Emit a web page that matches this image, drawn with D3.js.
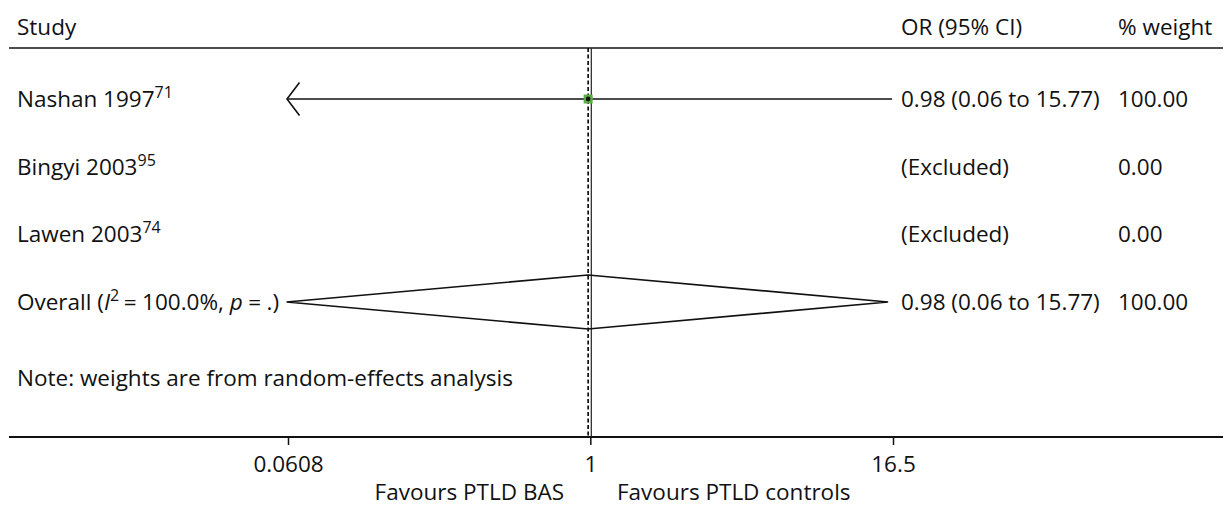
<!DOCTYPE html>
<html>
<head>
<meta charset="utf-8">
<script src="https://cdn.jsdelivr.net/npm/d3@7/dist/d3.min.js"></script>
<style>
  html, body { margin: 0; padding: 0; background: #fff; }
  svg text { font-family: "Open Sans", "Noto Sans", sans-serif; font-size: 22.5px; fill: #111; }
</style>
</head>
<body>
<svg id="chart" width="1224" height="506"></svg>
<script>
// Forest plot: odds ratios for PTLD, BAS vs controls
const studies   = ["Nashan 1997", "Bingyi 2003", "Lawen 2003"];
const refs      = ["71", "95", "74"];
const oddsRatio = [0.98, null, null];
const ciLow     = [0.06, null, null];
const ciHigh    = [15.77, null, null];
const weights   = ["100.00", "0.00", "0.00"];
const ciLabels  = ["0.98 (0.06 to 15.77)", "(Excluded)", "(Excluded)"];

const overallOR = 0.98, overallLow = 0.06, overallHigh = 15.77;
const overallLabel = "0.98 (0.06 to 15.77)";
const overallWeight = "100.00";

const tickValues = [0.0608, 1, 16.5];
const tickLabels = ["0.0608", "1", "16.5"];

const svg = d3.select("#chart");

const x = d3.scaleLog().domain([0.0608, 16.5]).range([288, 893]);
const rowY = d3.scalePoint().domain([0, 1, 2, 3]).range([99, 302]);

const topLine = 48, axisY = 437;
const colCI = 901, colW = 1118, colStudy = 17;
const base = 8; // baseline offset from row centre
const font = "'Open Sans', 'Noto Sans', sans-serif";

// header
svg.append("text").attr("x", colStudy).attr("y", 35).text("Study");
svg.append("text").attr("x", colCI).attr("y", 35).text("OR (95% CI)");
svg.append("text").attr("x", colW).attr("y", 35).text("% weight");
svg.append("line").attr("x1", 9).attr("x2", 1223).attr("y1", topLine).attr("y2", topLine)
  .attr("stroke", "#111").attr("stroke-width", 1.6);

// reference lines: null effect (solid) and pooled estimate (dashed)
svg.append("line").attr("x1", x(1) + 1).attr("x2", x(1) + 1).attr("y1", topLine).attr("y2", axisY)
  .attr("stroke", "#333").attr("stroke-width", 1.3);
svg.append("line").attr("x1", x(overallOR)).attr("x2", x(overallOR)).attr("y1", topLine).attr("y2", axisY)
  .attr("stroke", "#111").attr("stroke-width", 1.7).attr("stroke-dasharray", "4,2.5");

// study rows
studies.forEach((name, i) => {
  const y = rowY(i);
  const t = svg.append("text").attr("x", colStudy).attr("y", y + base);
  t.append("tspan").text(name);
  t.append("tspan").attr("dy", -9).attr("font-size", "16px").text(refs[i]);
  svg.append("text").attr("x", colCI).attr("y", y + base).text(ciLabels[i]);
  svg.append("text").attr("x", colW).attr("y", y + base).text(weights[i]);

  if (oddsRatio[i] != null) {
    const [d0, d1] = x.domain();
    const lo = Math.max(ciLow[i], d0), hi = Math.min(ciHigh[i], d1);
    svg.append("line").attr("x1", x(lo) - 1).attr("x2", x(hi) + 4).attr("y1", y).attr("y2", y)
      .attr("stroke", "#111").attr("stroke-width", 1.6);
    if (ciLow[i] < d0) {
      const ax = x(d0) - 1;
      svg.append("path")
        .attr("d", `M${ax + 12.5},${y - 16.5} L${ax},${y} L${ax + 12.5},${y + 16.5}`)
        .attr("fill", "none").attr("stroke", "#111").attr("stroke-width", 1.6);
    }
    const s = 9;
    svg.append("rect").attr("x", x(oddsRatio[i]) - s / 2).attr("y", y - s / 2)
      .attr("width", s).attr("height", s).attr("fill", "#5aae45");
    svg.append("circle").attr("cx", x(oddsRatio[i])).attr("cy", y).attr("r", 2.4).attr("fill", "#111");
  }
});

// overall row
const oy = rowY(3);
const gap = 5.5;
const ot = svg.append("text").attr("x", colStudy).attr("y", oy + base);
ot.append("tspan").text("Overall (");
ot.append("tspan").attr("font-style", "italic").text("I");
ot.append("tspan").attr("dy", -9).attr("font-size", "16px").text("2");
ot.append("tspan").attr("dy", 9).attr("dx", gap - 1).text("=");
ot.append("tspan").attr("dx", gap).text("100.0%, ");
ot.append("tspan").attr("font-style", "italic").text("p");
ot.append("tspan").attr("dx", gap).text("=");
ot.append("tspan").attr("dx", gap).text(".)");
svg.append("text").attr("x", colCI).attr("y", oy + base).text(overallLabel);
svg.append("text").attr("x", colW).attr("y", oy + base).text(overallWeight);

svg.append("path")
  .attr("d", `M${x(overallLow)},${oy} L${x(overallOR)},${oy - 27} L${x(overallHigh)},${oy} L${x(overallOR)},${oy + 27} Z`)
  .attr("fill", "none").attr("stroke", "#111").attr("stroke-width", 1.6);

// note
svg.append("text").attr("x", colStudy).attr("y", 386).text("Note: weights are from random-effects analysis");

// axis
svg.append("line").attr("x1", 9).attr("x2", 1223).attr("y1", axisY).attr("y2", axisY)
  .attr("stroke", "#111").attr("stroke-width", 2);
const axis = d3.axisBottom(x).tickValues(tickValues).tickFormat((d, i) => tickLabels[i]).tickSize(8).tickSizeOuter(0);
const g = svg.append("g").attr("transform", `translate(0,${axisY})`).call(axis);
g.select(".domain").remove();
g.selectAll(".tick line").attr("stroke", "#111").attr("stroke-width", 1.5);
g.selectAll(".tick text").attr("dy", 0).attr("y", 35).style("font-size", "22.5px").style("font-family", font).attr("fill", "#111");

svg.append("text").attr("x", 564).attr("y", 500).attr("text-anchor", "end").text("Favours PTLD BAS");
svg.append("text").attr("x", 617).attr("y", 500).text("Favours PTLD controls");
</script>
</body>
</html>
